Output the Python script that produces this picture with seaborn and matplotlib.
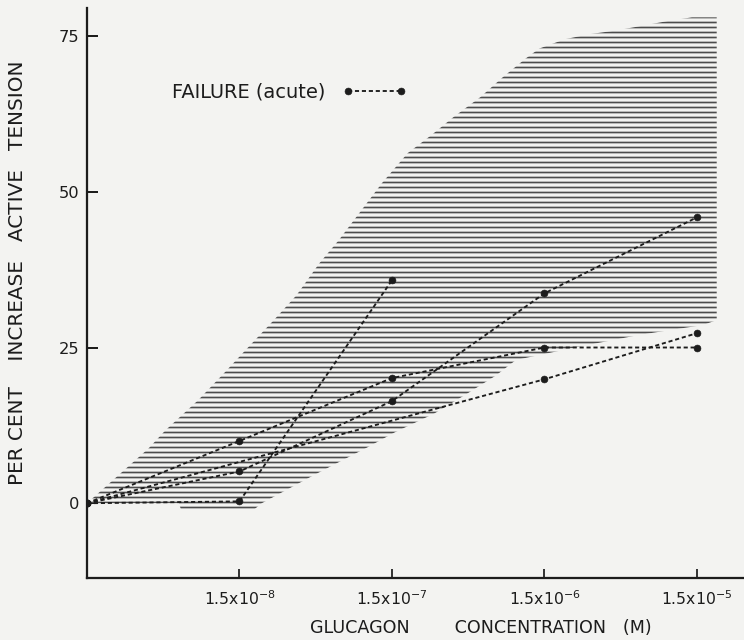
import numpy as np
import pandas as pd
import matplotlib
matplotlib.use("Agg")
import matplotlib.pyplot as plt
from matplotlib.ticker import NullLocator, FixedLocator, FixedFormatter
import seaborn as sns

# ---------------- data ----------------
x_tick_values = [1.5e-8, 1.5e-7, 1.5e-6, 1.5e-5]
x_tick_labels = [r"1.5x$10^{-8}$", r"1.5x$10^{-7}$", r"1.5x$10^{-6}$", r"1.5x$10^{-5}$"]
y_tick_values = [0, 25, 50, 75]

series_a_conc = [1.5e-9, 1.5e-8, 1.5e-7]
series_a_val = [0.0, 0.3, 35.8]
series_b_conc = [1.5e-9, 1.5e-8, 1.5e-7, 1.5e-6, 1.5e-5]
series_b_val = [0.0, 10.0, 20.1, 25.0, 25.0]
series_c_conc = [1.5e-9, 1.5e-8, 1.5e-7, 1.5e-6, 1.5e-5]
series_c_val = [0.0, 5.1, 16.4, 33.7, 45.9]
series_d_conc = [1.5e-9, 1.5e-6, 1.5e-5]
series_d_val = [0.0, 19.9, 27.3]

# normal range (hatched band): upper edge left->right, lower edge right->left
band_upper_conc = [1.5e-9, 3.8e-9, 4.9e-9, 8.0e-9, 1.2e-8, 1.69e-8, 2.52e-8, 3.55e-8,
                   5.0e-8, 6.7e-8, 9.1e-8, 1.29e-7, 1.9e-7, 2.72e-7, 3.8e-7, 5.7e-7,
                   8.0e-7, 1.13e-6, 1.39e-6, 2.05e-6, 2.97e-6, 4.44e-6, 6.4e-6,
                   9.6e-6, 1.39e-5, 2.02e-5]
band_upper_val = [0.0, 8.8, 11.7, 16.5, 21.0, 24.9, 29.4, 33.4, 38.5, 42.2, 46.5, 51.4,
                  56.2, 59.1, 62.0, 65.2, 68.4, 71.4, 73.0, 74.5, 75.3, 75.9, 76.6,
                  77.4, 78.0, 78.0]
band_lower_conc = [2.02e-5, 1.64e-5, 1.0e-5, 6.2e-6, 2.38e-6, 9.75e-7, 7.2e-7, 4.6e-7,
                   2.84e-7, 1.57e-7, 1.04e-7, 7.1e-8, 4.6e-8, 2.1e-8, 1.87e-8, 6.2e-9,
                   6.0e-9, 1.5e-9]
band_lower_val = [29.4, 28.6, 27.8, 27.0, 25.0, 23.0, 20.5, 17.5, 14.4, 11.4, 9.0, 6.9,
                  4.5, 0.0, -1.0, -1.0, 0.0, 0.0]

legend_label = "FAILURE (acute)"
x_label = "GLUCAGON        CONCENTRATION   (M)"
y_label = "PER CENT    INCREASE   ACTIVE   TENSION"

# ---------------- table ----------------
frames = []
for name, cx, vy in [("A", series_a_conc, series_a_val),
                     ("B", series_b_conc, series_b_val),
                     ("C", series_c_conc, series_c_val),
                     ("D", series_d_conc, series_d_val)]:
    frames.append(pd.DataFrame({"conc": cx, "tension": vy, "series": name}))
df = pd.concat(frames, ignore_index=True)

# ---------------- style ----------------
BG = "#f3f3f1"
INK = "#1c1c1c"
HATCH = "#4c4c4c"

sns.set_theme(style="white")
plt.rcParams["font.family"] = ["DejaVu Sans"]
plt.rcParams["mathtext.fontset"] = "dejavusans"
plt.rcParams["hatch.linewidth"] = 1.35
plt.rcParams["hatch.color"] = HATCH

DPI = 90
fig = plt.figure(figsize=(744 / DPI, 640 / DPI), dpi=DPI, facecolor=BG)
ax = fig.add_axes([87 / 744, 62 / 640, 657 / 744, 570 / 640])
ax.set_facecolor(BG)
ax.set_xscale("log")

# hatched normal band
ax.fill(band_upper_conc + band_lower_conc, band_upper_val + band_lower_val,
        facecolor="none", edgecolor=HATCH, hatch="---", linewidth=0, zorder=1)

palette = {k: INK for k in df["series"].unique()}
sns.lineplot(data=df, x="conc", y="tension", hue="series", palette=palette,
             estimator=None, sort=False, marker="o", markersize=5.5,
             markeredgecolor=INK, markeredgewidth=0.5,
             linestyle=(0, (2.2, 1.5)), linewidth=1.5, legend=False, ax=ax, zorder=3)

ax.set_xlim(1.5e-9, 3.05e-5)
ax.set_ylim(-12.0, 79.5)

ax.xaxis.set_major_locator(FixedLocator(x_tick_values))
ax.xaxis.set_major_formatter(FixedFormatter(x_tick_labels))
ax.xaxis.set_minor_locator(NullLocator())
ax.set_yticks(y_tick_values)

for side in ["top", "right"]:
    ax.spines[side].set_visible(False)
for side in ["left", "bottom"]:
    ax.spines[side].set_linewidth(1.8)
    ax.spines[side].set_color(INK)

ax.tick_params(axis="y", direction="in", length=9, width=1.6, labelsize=13,
               pad=6, colors=INK, left=True)
ax.tick_params(axis="x", direction="in", length=7, width=1.4, labelsize=12.5,
               pad=9, colors=INK, bottom=True)

ax.set_xlabel(x_label, fontsize=14, color=INK)
ax.set_ylabel(y_label, fontsize=16, color=INK)
ax.xaxis.set_label_coords(0.600, -0.072)
ax.yaxis.set_label_coords(-0.092, 0.535)

handle = ax.get_lines()[0]
ax.legend([handle], [legend_label], loc="center left", bbox_to_anchor=(0.129, 0.853),
          frameon=False, markerfirst=False, numpoints=2, handlelength=3.3,
          handletextpad=0.9, borderpad=0, borderaxespad=0, fontsize=15.5,
          labelcolor=INK)

fig.savefig("out.png", dpi=DPI, facecolor=BG)
